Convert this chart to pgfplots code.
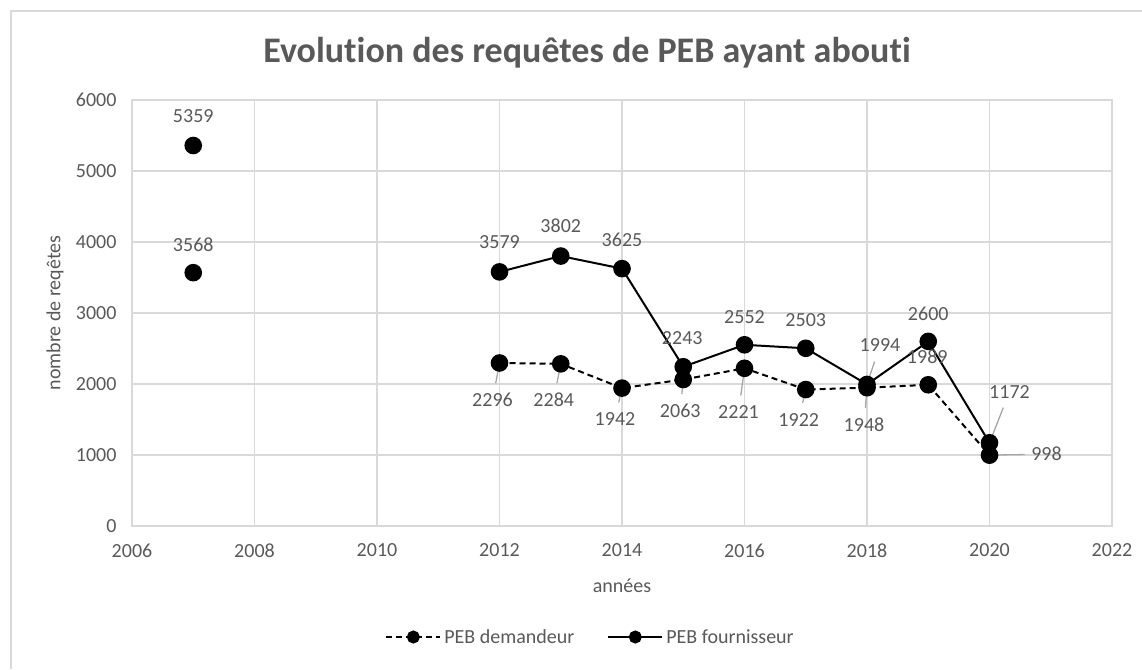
\documentclass[border=0pt]{standalone}
\usepackage{fontspec}
\setmainfont{Carlito}[Ligatures={NoCommon}]
\usepackage{pgfplots}
\pgfplotsset{compat=1.18}
\usepackage{pgfplotstable}
\definecolor{txt}{HTML}{595959}
\definecolor{grd}{HTML}{D9D9D9}
\definecolor{lead}{HTML}{A6A6A6}

\pgfplotstableread{
x y dx dy
2007 5359 0 29
2008 nan 0 0
2012 3579 0 30
2013 3802 0 30
2014 3625 0 29
2015 2243 -1 29
2016 2552 0 28
2017 2503 0 28
2018 1994 13 39
2019 2600 0 28
2020 1172 20 51
}\fournisseur

\pgfplotstableread{
x y dx dy
2007 3568 0 28
2008 nan 0 0
2012 2296 -7 -37
2013 2284 -7 -36
2014 1942 -7 -31
2015 2063 -3 -31
2016 2221 -6 -44
2017 1922 -7 -30
2018 1948 -3 -37
2019 1989 -1 28
2020 998 57 1
}\demandeur

\begin{document}
\begin{tikzpicture}
\useasboundingbox (0pt,0pt) rectangle (1142pt,669pt);
\draw[grd, line width=1.5pt] (11pt,0pt) -- (11pt,658pt) -- (1142pt,658pt);
\node[text=txt, font=\fontsize{36}{43}\selectfont\bfseries, anchor=base] at (587pt,606pt) {Evolution des requêtes de PEB ayant abouti};
\begin{axis}[
  at={(132pt,143pt)}, anchor=south west,
  scale only axis, width=980pt, height=426pt,
  xmin=2006, xmax=2022, ymin=0, ymax=6000,
  xtick={2006,2008,...,2022}, ytick={0,1000,...,6000},
  grid=major, major grid style={grd, line width=1.3pt},
  axis line style={grd, line width=1.3pt},
  major tick length=0pt,
  tick label style={text=txt, font=\fontsize{20}{24}\selectfont},
  /pgf/number format/assume math mode=true,
  /pgf/number format/1000 sep={},
  xticklabel style={yshift=-14pt},
  yticklabel style={xshift=-12pt},
  xlabel={années}, ylabel={nombre de reqêtes},
  every axis x label/.style={at={(axis description cs:0.5,-0.1408)}, anchor=center, text=txt, font=\fontsize{20}{24}\selectfont},
  every axis y label/.style={at={(axis description cs:-0.0786,0.5)}, rotate=90, anchor=center, text=txt, font=\fontsize{20}{24}\selectfont},
  clip=false,
  unbounded coords=jump,
  legend style={at={(axis description cs:0.4684,-0.2606)}, anchor=center, draw=none, fill=none, font=\fontsize{20}{24}\selectfont, text=txt, /tikz/every even column/.append style={column sep=30pt}, nodes={inner sep=3pt}},
  legend columns=2,
  legend image code/.code={\draw[mark repeat=2,mark phase=2,#1,mark size=5.5pt] plot coordinates {(0pt,0pt) (27pt,0pt) (54pt,0pt)};},
  visualization depends on={\thisrow{dx}\as\dx},
  visualization depends on={\thisrow{dy}\as\dy},
  nodes near coords,
  point meta=explicit,
  every node near coord/.append style={anchor=center, xshift=\dx pt, yshift=\dy pt, text=txt, font=\fontsize{20}{24}\selectfont},
]
% leader lines
\draw[lead, line width=1.3pt] (axis cs:2012,2296) -- ([shift={(-3.8pt,-20.3pt)}]axis cs:2012,2296);
\draw[lead, line width=1.3pt] (axis cs:2013,2284) -- ([shift={(-3.8pt,-19.3pt)}]axis cs:2013,2284);
\draw[lead, line width=1.3pt] (axis cs:2014,1942) -- ([shift={(-3.3pt,-14.4pt)}]axis cs:2014,1942);
\draw[lead, line width=1.3pt] (axis cs:2015,2063) -- ([shift={(-1.4pt,-14.6pt)}]axis cs:2015,2063);
\draw[lead, line width=1.3pt] (axis cs:2016,2221) -- ([shift={(-3.7pt,-27.2pt)}]axis cs:2016,2221);
\draw[lead, line width=1.3pt] (axis cs:2017,1922) -- ([shift={(-3.1pt,-13.4pt)}]axis cs:2017,1922);
\draw[lead, line width=1.3pt] (axis cs:2018,1948) -- ([shift={(-1.6pt,-20.1pt)}]axis cs:2018,1948);
\draw[lead, line width=1.3pt] (axis cs:2018,1994) -- ([shift={(7.6pt,22.9pt)}]axis cs:2018,1994);
\draw[lead, line width=1.3pt] (axis cs:2020,1172) -- ([shift={(13.8pt,35.2pt)}]axis cs:2020,1172);
\draw[lead, line width=1.3pt] (axis cs:2020,998) -- ([shift={(35pt,0.6pt)}]axis cs:2020,998);

\addplot[black, line width=2pt, dash pattern=on 6pt off 4pt, mark=*, mark size=7.8pt, mark options={solid}]
  table[x=x, y=y, meta=y] {\demandeur};
\addlegendentry{PEB demandeur}
\addplot[black, line width=2pt, mark=*, mark size=7.8pt]
  table[x=x, y=y, meta=y] {\fournisseur};
\addlegendentry{PEB fournisseur}
\end{axis}
\end{tikzpicture}
\end{document}
